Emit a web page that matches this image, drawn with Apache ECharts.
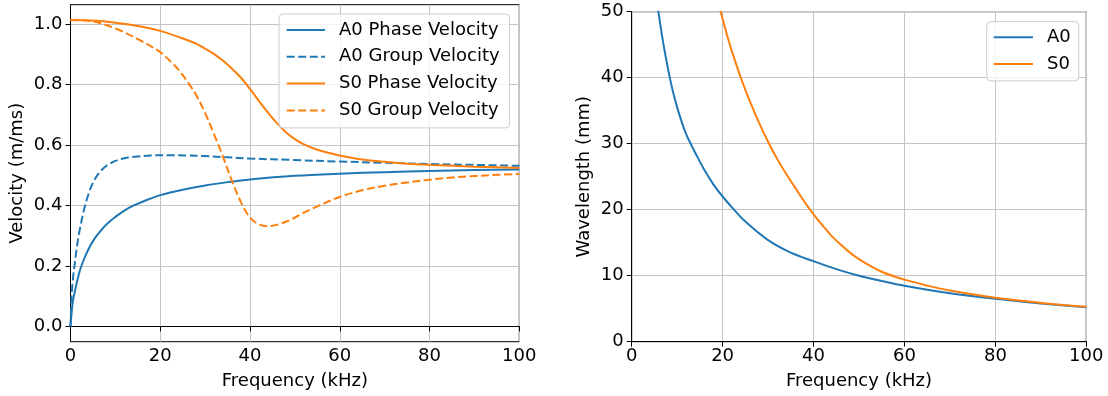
<!DOCTYPE html>
<html>
<head>
<meta charset="utf-8">
<script src="https://cdn.jsdelivr.net/npm/echarts@6/dist/echarts.min.js"></script>
<style>
html,body{margin:0;padding:0;background:#fff;}
#chart{width:1108px;height:396px;}
</style>
</head>
<body>
<div id="chart"></div>
<script>
// ---- tick labels ----
const freqTicks = [0, 20, 40, 60, 80, 100];
const velTicks = [0, 0.2, 0.4, 0.6, 0.8, 1.0];
const wlTicks = [0, 10, 20, 30, 40, 50];

// ---- left panel: velocities (m/ms) vs frequency (kHz) ----
const a0PhaseFreq = [0,0.5,1,2,3,4,5,6,8,10,12,14,17,20,25,30,35,40,50,60,70,80,90,100];
const a0PhaseVel  = [0,0.08,0.118,0.18,0.222,0.255,0.282,0.303,0.337,0.362,0.383,0.399,0.418,0.434,0.452,0.466,0.477,0.486,0.498,0.505,0.51,0.514,0.517,0.519];

const a0GroupFreq = [0,0.25,0.5,1,1.5,2,3,4,5,6,7,8,10,12,15,18,22,26,30,35,40,50,60,70,80,90,100];
const a0GroupVel  = [0,0.1,0.15,0.215,0.27,0.315,0.385,0.437,0.475,0.5,0.518,0.531,0.547,0.556,0.562,0.565,0.566,0.565,0.563,0.559,0.555,0.55,0.545,0.541,0.537,0.534,0.531];

const s0PhaseFreq = [0,5,10,15,20,25,28,30,32,34,36,38,40,42,44,46,48,50,52,55,58,60,65,70,75,80,85,90,95,100];
const s0PhaseVel  = [1.013,1.011,1.004,0.993,0.977,0.952,0.935,0.918,0.9,0.878,0.852,0.822,0.785,0.745,0.707,0.672,0.642,0.619,0.602,0.584,0.572,0.565,0.552,0.544,0.538,0.534,0.531,0.528,0.526,0.524];

const s0GroupFreq = [0,5,10,15,20,22,24,26,28,30,32,34,36,38,40,42,44,46,48,50,52,55,60,65,70,75,80,85,90,95,100];
const s0GroupVel  = [1.013,1.008,0.985,0.95,0.907,0.88,0.85,0.81,0.765,0.705,0.635,0.56,0.48,0.41,0.36,0.337,0.331,0.336,0.346,0.36,0.376,0.397,0.428,0.45,0.465,0.476,0.485,0.492,0.497,0.501,0.504];

// ---- right panel: wavelength (mm) vs frequency (kHz) ----
const a0WlFreq = [5.5,6,7,8,9,10,11,12,13,14,16,18,20,22,25,30,35,40,45,50,55,60,70,80,90,100];
const a0Wl     = [52,49.4,45.0,41.3,38.1,35.5,33.3,31.4,29.95,28.6,26.0,23.8,22.0,20.4,18.2,15.4,13.5,12.2,11.0,10.0,9.2,8.48,7.35,6.5,5.8,5.21];

const s0WlFreq = [19.2,20,21,22,24,26,28,30,32,34,36,38,40,42,44,46,48,50,55,60,65,70,80,90,100];
const s0Wl     = [51.0,48.9,46.4,44.1,40.0,36.4,33.2,30.3,27.7,25.4,23.3,21.2,19.3,17.6,16.0,14.7,13.5,12.5,10.6,9.4,8.5,7.75,6.65,5.88,5.28];

const BLUE = '#1f77b4', ORANGE = '#ff7f0e';
const FONT = 'DejaVu Sans';
const pairs = (xs, ys) => xs.map((x, i) => [x, ys[i]]);

const axisCommon = {
  axisLine: { show: true, lineStyle: { color: '#000', width: 1 } },
  axisTick: { show: true, inside: false, length: 5, lineStyle: { color: '#000', width: 1 } },
  splitLine: { show: true, lineStyle: { color: '#c4c4c4', width: 1 } },
  nameTextStyle: { fontFamily: FONT, fontSize: 18, color: '#000' },
};
const labelCommon = { fontFamily: FONT, fontSize: 18, color: '#000' };

function line(name, xs, ys, color, dashed, xi, yi) {
  return {
    name, type: 'line', xAxisIndex: xi, yAxisIndex: yi,
    data: pairs(xs, ys),
    symbol: 'none', smooth: 0.35,
    lineStyle: { color, width: 2, type: dashed ? [8, 3.5] : 'solid' },
    itemStyle: { color },
    clip: true, animation: false
  };
}

const legendCommon = {
  orient: 'vertical',
  backgroundColor: 'rgba(255,255,255,0.8)', borderColor: '#cccccc', borderWidth: 1, borderRadius: 4,
  textStyle: { fontFamily: FONT, fontSize: 18, color: '#000', padding: [0, 0, 0, 9] },
  itemStyle: { opacity: 0 },
  selectedMode: false
};

const chart = echarts.init(document.getElementById('chart'), null, { renderer: 'canvas' });
chart.setOption({
  animation: false,
  backgroundColor: '#fff',
  grid: [
    { left: 70.5, top: 4.7, width: 448.8, height: 337, show: true, borderColor: '#000', borderWidth: 1, backgroundColor: 'transparent' },
    { left: 631.7, top: 11.7, width: 454.6, height: 330, show: true, borderColor: '#000', borderWidth: 1, backgroundColor: 'transparent' }
  ],
  xAxis: [
    Object.assign({}, axisCommon, {
      type: 'value', gridIndex: 0, min: 0, max: 100, interval: 20,
      name: 'Frequency (kHz)', nameLocation: 'middle', nameGap: 31,
      axisLabel: Object.assign({ margin: 6, customValues: freqTicks }, labelCommon),
      axisTick: Object.assign({}, axisCommon.axisTick, { customValues: freqTicks })
    }),
    Object.assign({}, axisCommon, {
      type: 'value', gridIndex: 1, min: 0, max: 100, interval: 20,
      name: 'Frequency (kHz)', nameLocation: 'middle', nameGap: 31,
      axisLabel: Object.assign({ margin: 6, customValues: freqTicks }, labelCommon),
      axisTick: Object.assign({}, axisCommon.axisTick, { customValues: freqTicks })
    })
  ],
  yAxis: [
    Object.assign({}, axisCommon, {
      type: 'value', gridIndex: 0, min: -0.0506, max: 1.0636,
      name: 'Velocity (m/ms)', nameLocation: 'middle', nameGap: 44, nameRotate: 90,
      axisLabel: Object.assign({ margin: 8, customValues: velTicks, formatter: v => Number(v).toFixed(1) }, labelCommon),
      axisTick: Object.assign({}, axisCommon.axisTick, { customValues: velTicks })
    }),
    Object.assign({}, axisCommon, {
      type: 'value', gridIndex: 1, min: 0, max: 50, interval: 10,
      name: 'Wavelength (mm)', nameLocation: 'middle', nameGap: 38, nameRotate: 90,
      axisLabel: Object.assign({ margin: 8, customValues: wlTicks }, labelCommon),
      axisTick: Object.assign({}, axisCommon.axisTick, { customValues: wlTicks })
    })
  ],
  legend: [
    Object.assign({}, legendCommon, {
      data: ['A0 Phase Velocity', 'A0 Group Velocity', 'S0 Phase Velocity', 'S0 Group Velocity'],
      left: 279, top: 14,
      padding: [7, 10, 8.5, 6.7],
      itemWidth: 38.3, itemHeight: 18, itemGap: 8.8
    }),
    Object.assign({}, legendCommon, {
      data: ['A0', 'S0'],
      left: 986.7, top: 21.7,
      padding: [6.5, 8, 8, 6],
      itemWidth: 39.3, itemHeight: 18, itemGap: 8.7
    })
  ],
  series: [
    line('A0 Phase Velocity', a0PhaseFreq, a0PhaseVel, BLUE, false, 0, 0),
    line('A0 Group Velocity', a0GroupFreq, a0GroupVel, BLUE, true, 0, 0),
    line('S0 Phase Velocity', s0PhaseFreq, s0PhaseVel, ORANGE, false, 0, 0),
    line('S0 Group Velocity', s0GroupFreq, s0GroupVel, ORANGE, true, 0, 0),
    line('A0', a0WlFreq, a0Wl, BLUE, false, 1, 1),
    line('S0', s0WlFreq, s0Wl, ORANGE, false, 1, 1)
  ]
});
</script>
</body>
</html>
